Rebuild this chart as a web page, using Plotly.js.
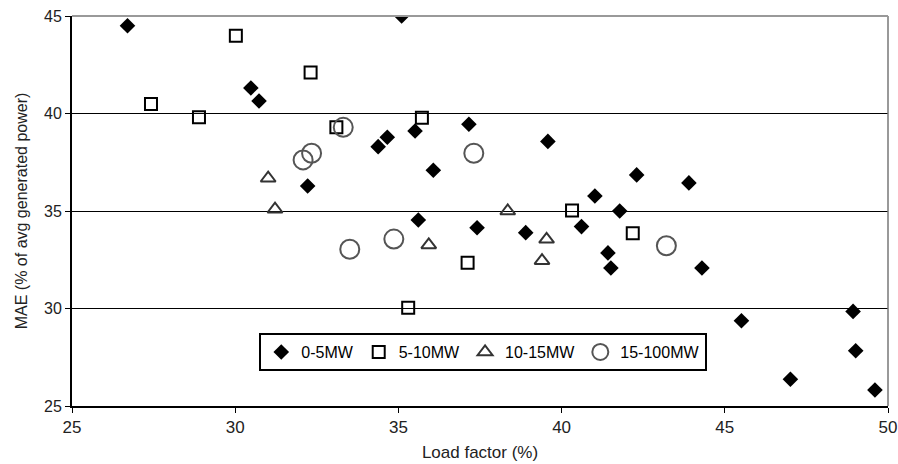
<!DOCTYPE html>
<html>
<head>
<meta charset="utf-8">
<script src="https://cdn.plot.ly/plotly-3.0.1.min.js"></script>
<style>html,body{margin:0;padding:0;background:#fff;}#chart{width:898px;height:464px;}</style>
</head>
<body>
<div id="chart"></div>
<script>
// 0-5MW
var x05 = [26.7, 30.48, 30.73, 32.22, 35.1, 34.38, 34.66, 35.51, 37.16, 36.07, 35.61, 37.41, 39.58, 38.9, 40.61, 41.02, 42.3, 41.78, 41.42, 41.51, 43.9, 44.3, 45.51, 48.93, 49.01, 47.01, 49.6];
var y05 = [44.5, 41.31, 40.64, 36.28, 45.0, 38.3, 38.78, 39.1, 39.45, 37.09, 34.54, 34.14, 38.57, 33.89, 34.2, 35.77, 36.85, 35.0, 32.85, 32.08, 36.44, 32.08, 29.37, 29.85, 27.83, 26.37, 25.82];
// 5-10MW
var x510 = [30.02, 32.31, 27.42, 28.89, 33.1, 35.72, 40.32, 42.18, 37.12, 35.3];
var y510 = [43.99, 42.1, 40.49, 39.81, 39.3, 39.78, 35.02, 33.86, 32.35, 30.04];
// 10-15MW
var x1015 = [31.01, 31.22, 35.93, 38.35, 39.54, 39.4];
var y1015 = [36.68, 35.09, 33.26, 35.0, 33.55, 32.45];
// 15-100MW
var x15100 = [33.31, 32.08, 32.34, 37.31, 33.51, 34.86, 43.21];
var y15100 = [39.29, 37.62, 37.96, 37.96, 33.04, 33.56, 33.22];

var names = ['0-5MW', '5-10MW', '10-15MW', '15-100MW'];

var traces = [
  {x: x05, y: y05, name: names[0], type: 'scatter', mode: 'markers',
   marker: {symbol: 'diamond', size: 12, color: '#000', line: {width: 0}}},
  {x: x510, y: y510, name: names[1], type: 'scatter', mode: 'markers',
   marker: {symbol: 'square-open', size: 12, color: '#000', line: {width: 2}}},
  {x: x1015, y: y1015, name: names[2], type: 'scatter', mode: 'markers',
   marker: {symbol: 'triangle-up-open', size: 13, color: '#333', line: {width: 2}}},
  {x: x15100, y: y15100, name: names[3], type: 'scatter', mode: 'markers',
   marker: {symbol: 'circle-open', size: 19, color: '#555', line: {width: 2}}}
];

var layout = {
  width: 898, height: 464,
  margin: {l: 72, r: 10, t: 16, b: 58},
  paper_bgcolor: '#fff', plot_bgcolor: '#fff',
  font: {family: 'Liberation Sans, Arial, sans-serif', size: 17, color: '#222'},
  showlegend: true,
  legend: {
    orientation: 'h', x: 0.504, y: 0.187, xanchor: 'center', yanchor: 'top',
    bordercolor: '#000', borderwidth: 2, bgcolor: '#fff',
    font: {size: 16, color: '#000'}, itemwidth: 30, tracegroupgap: 0
  },
  xaxis: {
    range: [25, 50], dtick: 5, tick0: 25,
    showgrid: false, zeroline: false,
    showline: true, linecolor: '#000', linewidth: 2,
    ticks: 'outside', ticklen: 5, tickcolor: '#000', tickwidth: 1,
    tickfont: {size: 17},
    title: {text: 'Load factor (%)', font: {size: 17}, standoff: 10}
  },
  yaxis: {
    range: [25, 45], dtick: 5, tick0: 25,
    showgrid: true, gridcolor: '#000', gridwidth: 1, zeroline: false,
    showline: true, linecolor: '#000', linewidth: 2,
    ticks: 'outside', ticklen: 5, tickcolor: '#000', tickwidth: 1,
    tickfont: {size: 16},
    title: {text: 'MAE (% of avg generated power)', font: {size: 16}, standoff: 12}
  },
  shapes: [
    {type: 'line', xref: 'paper', yref: 'paper', x0: 1, x1: 1, y0: 0, y1: 1,
     line: {color: '#777', width: 1.5}},
    {type: 'line', xref: 'paper', yref: 'paper', x0: 0, x1: 1, y0: 1, y1: 1,
     line: {color: '#999', width: 2}}
  ]
};

Plotly.newPlot('chart', traces, layout, {displayModeBar: false, staticPlot: true});
</script>
</body>
</html>
